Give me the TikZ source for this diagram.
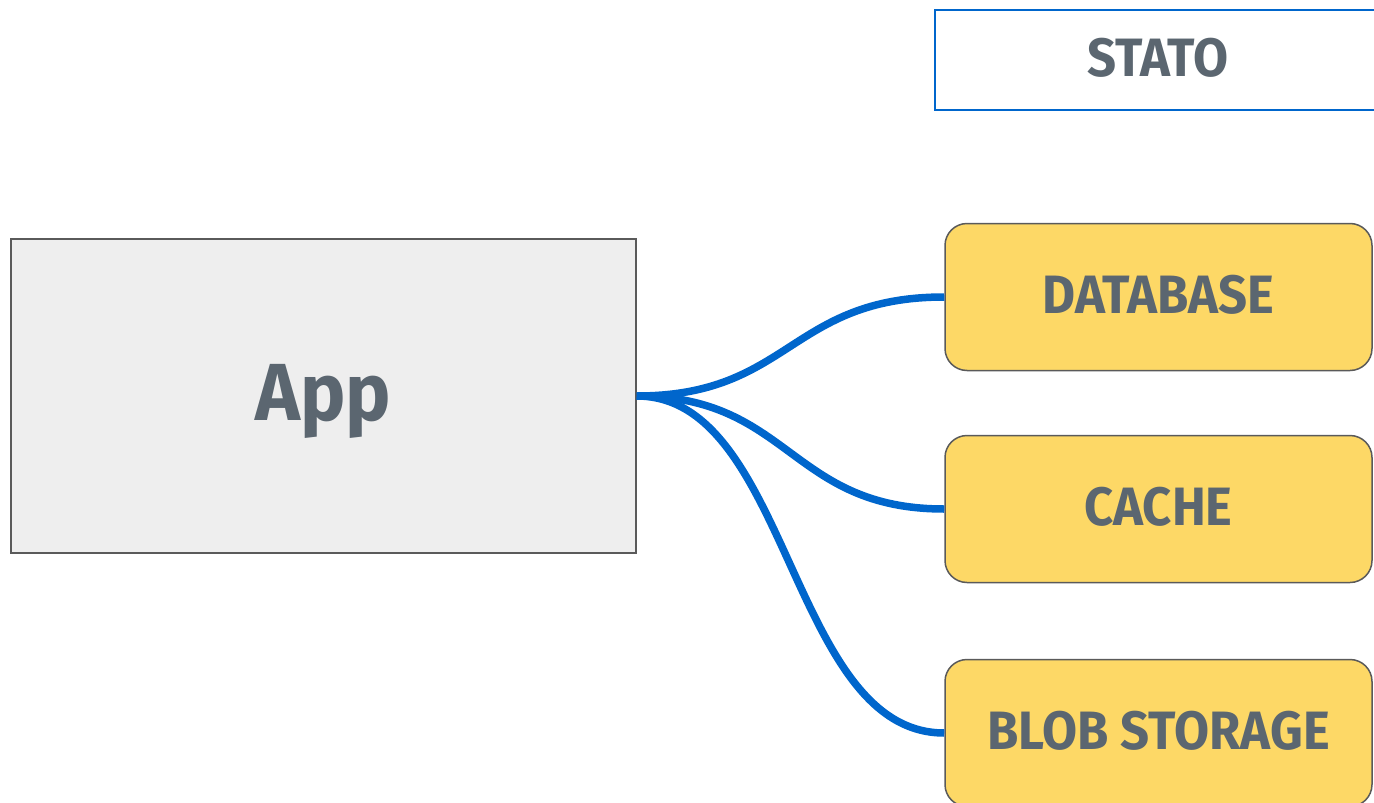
\documentclass[tikz,border=0pt]{standalone}
\usepackage{fontspec}
\setmainfont{Fira Sans}[FakeStretch=0.94]
\definecolor{inkgray}{HTML}{5B6670}
\definecolor{storeyellow}{HTML}{FDD866}
\definecolor{linkblue}{HTML}{0066CC}
\definecolor{appfill}{HTML}{EEEEEE}
\definecolor{edgegray}{HTML}{5A5A5A}
\tikzset{
  label text/.style={text=inkgray, font=\fontsize{54}{60}\selectfont\bfseries},
  store/.style={draw=edgegray, line width=1.5pt, fill=storeyellow, rounded corners=22pt,
    minimum width=427pt, minimum height=147pt, inner sep=0pt},
  appbox/.style={draw=edgegray, line width=1.5pt, fill=appfill,
    minimum width=625pt, minimum height=314pt, inner sep=0pt},
  apptext/.style={text=inkgray, font=\fontsize{81}{90}\selectfont\bfseries},
  header/.style={draw=linkblue, line width=1.5pt, fill=white,
    minimum width=460pt, minimum height=100pt, inner sep=0pt},
  link/.style={draw=linkblue, line width=7.5pt}
}
\begin{document}
\begin{tikzpicture}[x=1pt, y=-1pt]
  \useasboundingbox (0,0) rectangle (1374,803);
  % heading over the storage column
  \node[header, anchor=north west] (stato) at (934,9) {};
  \node[label text] (statotext) at (1158,58) {STATO};
  % application box
  \node[appbox] (app) at (323.5,396) {};
  \node[apptext] (apptitle) at (323.5,401) {App};
  % storage services
  \node[store] (db) at (1158.5,297) {};
  \node[label text] (dbtext) at (1158.5,295) {DATABASE};
  \node[store] (cache) at (1158.5,509) {};
  \node[label text] (cachetext) at (1158.5,507) {CACHE};
  \node[store] (blob) at (1158.5,733) {};
  \node[label text] (blobtext) at (1158.5,731) {BLOB STORAGE};
  % connectors
  \draw[link] (app.east) .. controls (790,396) and (790,297) .. (db.west);
  \draw[link] (app.east) .. controls (790,396) and (790,509) .. (cache.west);
  \draw[link] (app.east) .. controls (790,396) and (790,733) .. (blob.west);
\end{tikzpicture}
\end{document}
